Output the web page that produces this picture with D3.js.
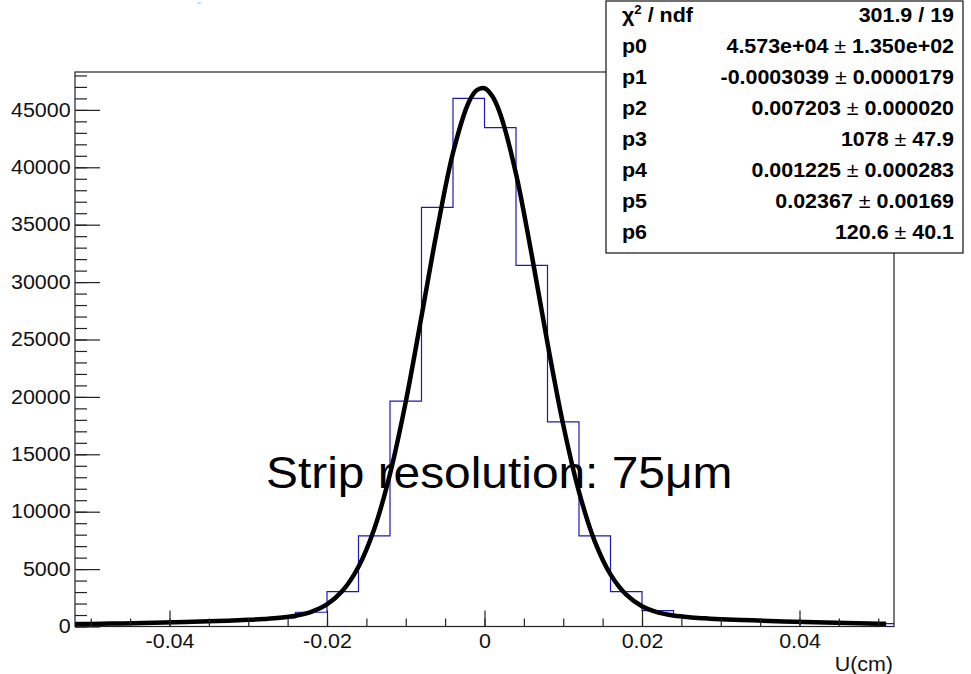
<!DOCTYPE html>
<html>
<head>
<meta charset="utf-8">
<script src="https://cdn.jsdelivr.net/npm/d3@7"></script>
<style>
  body { margin: 0; background: #fff; }
  text { font-family: "Liberation Sans", Arial, sans-serif; }
</style>
</head>
<body>
<div id="chart-container"></div>
<script>
// Histogram bins (bin width 0.004 cm)
const binWidth = 0.004;
const binCenters = [-0.050, -0.046, -0.042, -0.038, -0.034, -0.030, -0.026, -0.022, -0.018, -0.014,
  -0.010, -0.006, -0.002, 0.002, 0.006, 0.010, 0.014, 0.018, 0.022, 0.026,
  0.030, 0.034, 0.038, 0.042, 0.046, 0.050];
const binCounts = [215, 265, 320, 390, 480, 590, 740, 1240, 3030, 7900,
  19630, 36510, 46000, 43450, 31460, 17820, 7900, 3030, 1380, 830,
  640, 530, 440, 360, 300, 250];

// Fit curve
const fitX = [-0.052, -0.050, -0.046, -0.042, -0.038, -0.034, -0.030, -0.028, -0.026, -0.024,
  -0.022, -0.020, -0.018, -0.016, -0.014, -0.012, -0.010, -0.008, -0.006, -0.004,
  -0.002, -0.001, 0.000, 0.001, 0.002, 0.004, 0.006, 0.008, 0.010, 0.012,
  0.014, 0.016, 0.018, 0.020, 0.022, 0.024, 0.026, 0.028, 0.030, 0.034,
  0.038, 0.042, 0.046, 0.050, 0.051];
const fitY = [207, 224, 267, 323, 393, 476, 581, 652, 754, 936,
  1277, 1930, 3132, 5205, 8498, 13281, 19565, 27013, 34602, 41263,
  45669, 46711, 46886, 46184, 44647, 39447, 32357, 24684, 17563, 11726,
  7419, 4538, 2771, 1769, 1233, 954, 801, 710, 638, 534,
  442, 364, 300, 249, 238];

// Axis ticks
const xMajorTicks = [-0.04, -0.02, 0, 0.02, 0.04];
const xTickLabels = ["-0.04", "-0.02", "0", "0.02", "0.04"];
const xMinorTicks = [-0.05, -0.045, -0.04, -0.035, -0.03, -0.025, -0.02, -0.015, -0.01, -0.005, 0,
  0.005, 0.01, 0.015, 0.02, 0.025, 0.03, 0.035, 0.04, 0.045, 0.05];
const yMajorTicks = [0, 5000, 10000, 15000, 20000, 25000, 30000, 35000, 40000, 45000];
const yTickLabels = ["0", "5000", "10000", "15000", "20000", "25000", "30000", "35000", "40000", "45000"];
const yMinorTicks = d3.range(0, 48001, 1000);

// Stats box
const statNames = ["p0", "p1", "p2", "p3", "p4", "p5", "p6"];
const statValues = ["4.573e+04", "-0.0003039", "0.007203", "1078", "0.001225", "0.02367", "120.6"];
const statErrors = ["1.350e+02", "0.0000179", "0.000020", "47.9", "0.000283", "0.00169", "40.1"];
const chi2Text = "301.9 / 19";

const W = 971, H = 674;
const frame = { left: 75, top: 72, right: 894, bottom: 626.5 };
const stretch = "scale(1.1,1)";

const svg = d3.select("#chart-container")
  .append("svg")
  .attr("width", W)
  .attr("height", H);

const x = d3.scaleLinear().domain([-0.052, 0.052]).range([frame.left, frame.right]);
const y = d3.scaleLinear().domain([0, 48300]).range([frame.bottom, frame.top]);

svg.append("defs").append("clipPath").attr("id", "frameClip")
  .append("rect")
  .attr("x", frame.left).attr("y", frame.top - 20)
  .attr("width", frame.right - frame.left).attr("height", frame.bottom - frame.top + 20);

// little title remnant at the top
svg.append("text")
  .attr("transform", "translate(199,7.5) " + stretch)
  .attr("text-anchor", "middle")
  .attr("fill", "#8fc3ea")
  .style("font-size", "9px")
  .text("\"");

// Histogram outline
const steps = binCenters.map((c, i) => [c - binWidth / 2, binCounts[i]]);
steps.push([binCenters[binCenters.length - 1] + binWidth / 2, binCounts[binCounts.length - 1]]);
svg.append("path")
  .datum(steps)
  .attr("fill", "none")
  .attr("stroke", "#1a1ab8")
  .attr("stroke-width", 1.2)
  .attr("d", d3.line().x(d => x(d[0])).y(d => y(d[1])).curve(d3.curveStepAfter));

// Fit line
svg.append("path")
  .datum(fitX.map((v, i) => [v, fitY[i]]))
  .attr("clip-path", "url(#frameClip)")
  .attr("fill", "none")
  .attr("stroke", "#000")
  .attr("stroke-width", 4.5)
  .attr("stroke-linejoin", "round")
  .attr("d", d3.line().x(d => x(d[0])).y(d => y(d[1])).curve(d3.curveCatmullRom));

// Frame
svg.append("rect")
  .attr("x", frame.left).attr("y", frame.top)
  .attr("width", frame.right - frame.left).attr("height", frame.bottom - frame.top)
  .attr("fill", "none")
  .attr("stroke", "#222")
  .attr("stroke-width", 1.2);

// Y axis
svg.append("g")
  .attr("transform", `translate(${frame.left},0)`)
  .call(d3.axisLeft(y).tickValues(yMinorTicks).tickSizeInner(-12).tickSizeOuter(0).tickFormat(""))
  .call(g => g.select(".domain").remove());
const yAxis = svg.append("g")
  .attr("transform", `translate(${frame.left},0)`)
  .call(d3.axisLeft(y).tickValues(yMajorTicks).tickSizeInner(-25).tickSizeOuter(0).tickPadding(4)
    .tickFormat((d, i) => yTickLabels[i]))
  .call(g => g.select(".domain").remove());
yAxis.selectAll("text")
  .attr("transform", stretch)
  .attr("fill", "#111")
  .style("font-size", "19.5px")
  .style("font-family", "'Liberation Sans', Arial, sans-serif");

// X axis
svg.append("g")
  .attr("transform", `translate(0,${frame.bottom})`)
  .call(d3.axisBottom(x).tickValues(xMinorTicks).tickSizeInner(-8).tickSizeOuter(0).tickFormat(""))
  .call(g => g.select(".domain").remove());
const xAxis = svg.append("g")
  .attr("transform", `translate(0,${frame.bottom})`)
  .call(d3.axisBottom(x).tickValues(xMajorTicks).tickSizeInner(-16).tickSizeOuter(0).tickPadding(8)
    .tickFormat((d, i) => xTickLabels[i]))
  .call(g => g.select(".domain").remove());
xAxis.selectAll("text")
  .attr("transform", stretch)
  .attr("fill", "#111")
  .style("font-size", "19.5px")
  .style("font-family", "'Liberation Sans', Arial, sans-serif");

svg.selectAll(".tick line").attr("stroke", "#222").attr("stroke-width", 1.2);

// X axis title
svg.append("text")
  .attr("transform", `translate(893,671) ${stretch}`)
  .attr("text-anchor", "end")
  .attr("fill", "#111")
  .style("font-size", "19.5px")
  .text("U(cm)");

// Stats box
const box = { x: 606, y: 1, w: 357, h: 252 };
svg.append("rect")
  .attr("x", box.x).attr("y", box.y)
  .attr("width", box.w).attr("height", box.h)
  .attr("fill", "#fff")
  .attr("stroke", "#111")
  .attr("stroke-width", 1.2);

const rowY = i => 22 + 31 * i;
const statFont = "19.5px";

const chiLabel = svg.append("text")
  .attr("transform", `translate(622,${rowY(0)}) ${stretch}`)
  .style("font-size", statFont)
  .style("font-weight", "bold");
chiLabel.append("tspan").text("χ");
chiLabel.append("tspan").attr("dy", -8).style("font-size", "12px").text("2");
chiLabel.append("tspan").attr("dy", 8).text(" / ndf");

svg.append("text")
  .attr("transform", `translate(954,${rowY(0)}) ${stretch}`)
  .attr("text-anchor", "end")
  .style("font-size", statFont)
  .style("font-weight", "bold")
  .text(chi2Text);

statNames.forEach((name, i) => {
  svg.append("text")
    .attr("transform", `translate(622,${rowY(i + 1)}) ${stretch}`)
    .style("font-size", statFont)
    .style("font-weight", "bold")
    .text(name);
  const t = svg.append("text")
    .attr("transform", `translate(954,${rowY(i + 1)}) ${stretch}`)
    .attr("text-anchor", "end")
    .style("font-size", statFont)
    .style("font-weight", "bold");
  t.append("tspan").text(statValues[i] + " ");
  t.append("tspan").style("font-weight", "normal").text("±");
  t.append("tspan").text(" " + statErrors[i]);
});

// Annotation
svg.append("text")
  .attr("transform", `translate(266,488) ${stretch}`)
  .attr("fill", "#000")
  .style("font-size", "43.5px")
  .text("Strip resolution: 75μm");
</script>
</body>
</html>
